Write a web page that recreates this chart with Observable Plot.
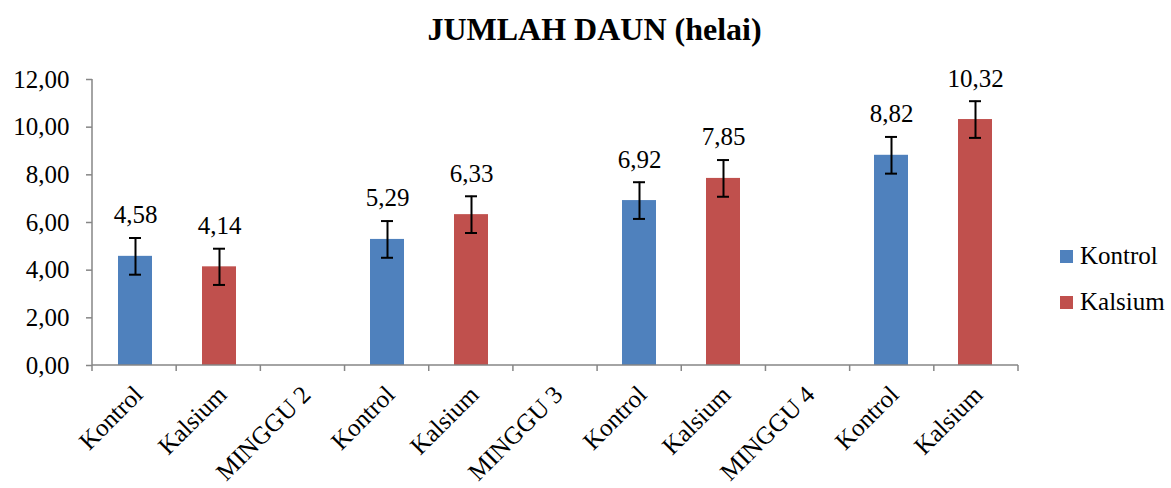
<!DOCTYPE html>
<html><head><meta charset="utf-8">
<script src="https://cdn.jsdelivr.net/npm/d3@7"></script>
<script src="https://cdn.jsdelivr.net/npm/@observablehq/plot@0.6"></script>
<style>
body{margin:0;background:#fff;font-family:'Liberation Serif',serif;}
#wrap{position:relative;width:1171px;height:488px;}
#title{position:absolute;left:0;top:8px;width:1171px;text-align:center;font-weight:bold;font-size:32px;line-height:42px;padding-left:18px;box-sizing:border-box;}
#chart{position:absolute;left:0;top:60px;}
#legend{position:absolute;left:1060px;top:240px;font-size:25px;}
.li{display:flex;align-items:center;height:32px;margin-bottom:14px;}
.sw{width:13px;height:13px;margin-right:7px;}
</style></head><body>
<div id="wrap">
<div id="title">JUMLAH DAUN (helai)</div>
<div id="chart"></div>
<div id="legend"></div>
</div>
<script>
const labels = ["Kontrol","Kalsium","MINGGU 2","Kontrol","Kalsium","MINGGU 3","Kontrol","Kalsium","MINGGU 4","Kontrol","Kalsium"];
const series = ["Kontrol","Kalsium",null,"Kontrol","Kalsium",null,"Kontrol","Kalsium",null,"Kontrol","Kalsium"];
const values = [4.58,4.14,null,5.29,6.33,null,6.92,7.85,null,8.82,10.32];
const errors = [0.77,0.76,null,0.77,0.77,null,0.77,0.77,null,0.77,0.77];
const seriesNames = ["Kontrol","Kalsium"];
const colors = ["#4F81BD","#C0504D"];
const yTicks = [0,2,4,6,8,10,12];

const data = labels.map((l,i)=>({key:i,label:l,series:series[i],value:values[i],err:errors[i]})).filter(d=>d.value!=null);
const fmt = v => d3.format(".2f")(v).replace(".",",");
const AX = "#868686";
const FF = "'Liberation Serif'";

function axisLines(index, scales, values, dim){
  const g = d3.create("svg:g").attr("stroke",AX).attr("stroke-width",1.5);
  const x0 = dim.marginLeft, x1 = dim.width - dim.marginRight;
  const yb = dim.height - dim.marginBottom, yt = dim.marginTop;
  g.append("line").attr("x1",x0).attr("x2",x0).attr("y1",yt).attr("y2",yb);
  g.append("line").attr("x1",x0).attr("x2",x1).attr("y1",yb).attr("y2",yb);
  const n = labels.length, step = (x1-x0)/n;
  for(let i=0;i<=n;i++){
    g.append("line").attr("x1",x0+i*step).attr("x2",x0+i*step).attr("y1",yb).attr("y2",yb+6);
  }
  return g.node();
}

const plot = Plot.plot({
  width:1171, height:428,
  marginLeft:92, marginRight:153, marginTop:19, marginBottom:123,
  style:{fontFamily:FF, fontSize:"25px", color:"#000", background:"#fff"},
  x:{domain:labels.map((l,i)=>i), paddingInner:0.6, paddingOuter:0.3},
  y:{domain:[0,12]},
  color:{domain:seriesNames, range:colors},
  marks:[
    Plot.barY(data,{x:"key",y:"value",fill:"series"}),
    Plot.ruleX(data,{x:"key",y1:d=>d.value-d.err,y2:d=>d.value+d.err,stroke:"#000",strokeWidth:2}),
    Plot.tickY(data,{x:"key",y:d=>d.value+d.err,stroke:"#000",strokeWidth:2,insetLeft:11,insetRight:11}),
    Plot.tickY(data,{x:"key",y:d=>d.value-d.err,stroke:"#000",strokeWidth:2,insetLeft:11,insetRight:11}),
    Plot.text(data,{x:"key",y:"value",text:d=>fmt(d.value),dy:-41,fontSize:25,fill:"#000"}),
    Plot.axisY({ticks:yTicks,tickFormat:fmt,tickSize:6,tickPadding:17,stroke:AX,strokeWidth:1.5,fontSize:25,fill:"#000",label:null}),
    Plot.axisX({tickFormat:i=>labels[i],tickSize:0,tickRotate:-45,tickPadding:25,dx:3,fontSize:25,fill:"#000",label:null}),
    axisLines
  ]
});
document.getElementById("chart").appendChild(plot);

const lg = document.getElementById("legend");
seriesNames.forEach((s,i)=>{
  const d = document.createElement("div"); d.className="li";
  d.innerHTML = `<div class="sw" style="background:${colors[i]}"></div><span>${s}</span>`;
  lg.appendChild(d);
});
</script>
</body></html>
